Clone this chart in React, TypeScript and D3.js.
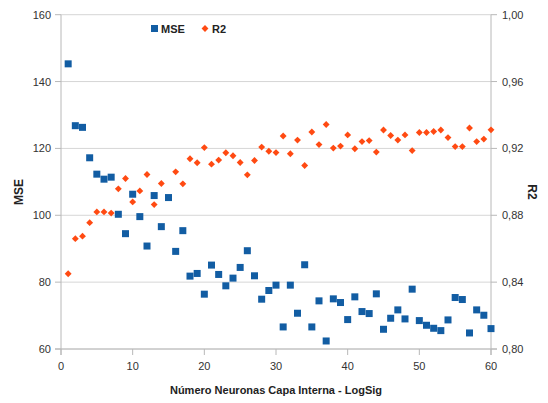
import React from "react";
import * as d3 from "d3";

// Neurons in the hidden layer (1..60)
const neurons: number[] = d3.range(1, 61);

const mseValues: number[] = [
  145.3, 126.8, 126.3, 117.2, 112.3, 110.8, 111.4, 100.3, 94.5, 106.3,
  99.6, 90.8, 105.9, 96.6, 105.3, 89.2, 95.4, 81.8, 82.6, 76.4,
  85.1, 82.3, 78.9, 81.2, 84.4, 89.4, 81.9, 74.9, 77.5, 79.1,
  66.6, 79.1, 70.7, 85.2, 66.6, 74.4, 62.4, 75.0, 73.9, 68.8,
  75.6, 71.2, 70.6, 76.5, 65.9, 69.2, 71.7, 69.0, 77.9, 68.5,
  67.1, 66.2, 65.5, 68.7, 75.4, 74.8, 64.8, 71.7, 70.1, 66.1,
];

const r2Values: (number | null)[] = [
  0.845, 0.866, 0.8675, 0.8756, 0.882, 0.882, 0.8813, 0.8958, 0.902, 0.888,
  0.8946, 0.9044, 0.8864, 0.899, null, 0.906, 0.8988, 0.9138, 0.9114, 0.9205,
  0.9106, 0.913, 0.9174, 0.9156, 0.9116, 0.9042, 0.9128, 0.9208, 0.9183, 0.9175,
  0.9274, 0.9168, 0.925, 0.9098, 0.9298, 0.9223, 0.9343, 0.9202, 0.9214, 0.9281,
  0.9198, 0.9241, 0.9247, 0.9178, 0.931, 0.9277, 0.925, 0.9281, 0.9187, 0.9295,
  0.9295, 0.9301, 0.931, 0.9265, 0.9211, 0.9211, 0.9322, 0.9241, 0.9256, 0.9311,
];

const xTicks: number[] = [0, 10, 20, 30, 40, 50, 60];
const mseTicks: number[] = [60, 80, 100, 120, 140, 160];
const r2Ticks: number[] = [0.8, 0.84, 0.88, 0.92, 0.96, 1.0];

const seriesNames: string[] = ["MSE", "R2"];
const xTitle = "Número Neuronas Capa Interna - LogSig";

const W = 548;
const H = 403;
const left = 61;
const right = 491;
const top = 14.7;
const bottom = 349;

const BLUE = "#125da3";
const ORANGE = "#ff4a12";
const GRID = "#d6d6d6";
const AXIS = "#b8b8b8";
const FONT = "'Liberation Sans', Arial, Helvetica, sans-serif";

export default function App() {
  const x = d3.scaleLinear().domain([0, 60]).range([left, right]);
  const yL = d3.scaleLinear().domain([60, 160]).range([bottom, top]);
  const yR = d3.scaleLinear().domain([0.8, 1.0]).range([bottom, top]);
  const fmtR = (v: number) => d3.format(".2f")(v).replace(".", ",");
  const diamond = d3.symbol().type(d3.symbolDiamond2).size(30)() as string;

  return (
    <svg
      width={W}
      height={H}
      style={{ position: "absolute", left: 0, top: 0, background: "#fff" }}
      fontFamily={FONT}
    >
      {/* horizontal gridlines */}
      {mseTicks.map((t) => (
        <line key={"g" + t} x1={left} x2={right} y1={yL(t)} y2={yL(t)} stroke={GRID} strokeWidth={1} />
      ))}
      {/* axes */}
      <line x1={left} x2={left} y1={top} y2={bottom + 6} stroke={AXIS} />
      <line x1={right} x2={right} y1={top} y2={bottom + 6} stroke={AXIS} />
      <line x1={left - 6} x2={right + 6} y1={bottom} y2={bottom} stroke={AXIS} />
      {mseTicks.map((t) => (
        <line key={"lt" + t} x1={left - 6} x2={left} y1={yL(t)} y2={yL(t)} stroke={AXIS} />
      ))}
      {r2Ticks.map((t) => (
        <line key={"rt" + t} x1={right} x2={right + 6} y1={yR(t)} y2={yR(t)} stroke={AXIS} />
      ))}
      {xTicks.map((t) => (
        <line key={"xt" + t} x1={x(t)} x2={x(t)} y1={bottom} y2={bottom + 6} stroke={AXIS} />
      ))}

      {/* tick labels */}
      {mseTicks.map((t) => (
        <text key={"ll" + t} x={51} y={yL(t) + 4} textAnchor="end" fontSize={11} fill="#333">
          {t}
        </text>
      ))}
      {r2Ticks.map((t) => (
        <text key={"rl" + t} x={502} y={yR(t) + 4} textAnchor="start" fontSize={11} fill="#333">
          {fmtR(t)}
        </text>
      ))}
      {xTicks.map((t) => (
        <text key={"xl" + t} x={x(t)} y={370} textAnchor="middle" fontSize={11} fill="#333">
          {t}
        </text>
      ))}

      {/* axis titles */}
      <text x={xTitle ? (left + right) / 2 : 0} y={394} textAnchor="middle" fontSize={11} fontWeight="bold" fill="#222">
        {xTitle}
      </text>
      <text
        transform={`translate(23,192) rotate(-90)`}
        textAnchor="middle"
        fontSize={12}
        fontWeight="bold"
        fill="#222"
      >
        {seriesNames[0]}
      </text>
      <text
        transform={`translate(528,192) rotate(90)`}
        textAnchor="middle"
        fontSize={12}
        fontWeight="bold"
        fill="#222"
      >
        {seriesNames[1]}
      </text>

      {/* MSE series */}
      {neurons.map((n, i) => (
        <rect
          key={"m" + n}
          x={x(n) - 3.5}
          y={yL(mseValues[i]) - 3.5}
          width={7}
          height={7}
          fill={BLUE}
        />
      ))}
      {/* R2 series */}
      {neurons.map((n, i) =>
        r2Values[i] == null ? null : (
          <path
            key={"r" + n}
            d={diamond}
            transform={`translate(${x(n)},${yR(r2Values[i] as number)})`}
            fill={ORANGE}
          />
        )
      )}

      {/* legend */}
      <rect x={151} y={25} width={7} height={7} fill={BLUE} />
      <text x={161} y={33} fontSize={11} fontWeight="bold" fill="#222">
        {seriesNames[0]}
      </text>
      <path d={diamond} transform="translate(205,28.5)" fill={ORANGE} />
      <text x={212} y={33} fontSize={11} fontWeight="bold" fill="#222">
        {seriesNames[1]}
      </text>
    </svg>
  );
}
